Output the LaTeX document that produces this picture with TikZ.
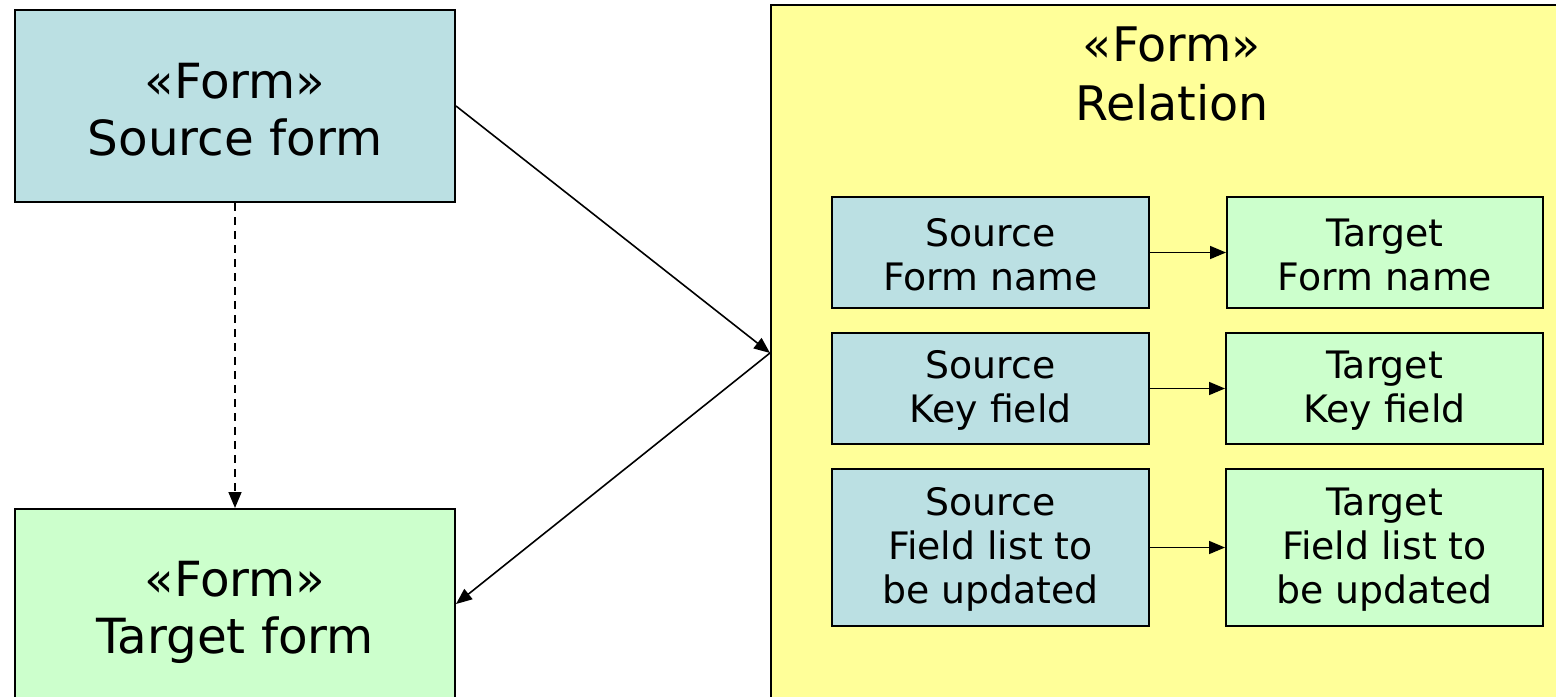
\documentclass[tikz,border=0pt]{standalone}
\usepackage{fontspec}
\setmainfont{DejaVu Sans}
\usetikzlibrary{arrows.meta}
\definecolor{srcblue}{RGB}{187,224,227}
\definecolor{tgtgreen}{RGB}{204,255,204}
\definecolor{relyellow}{RGB}{255,255,153}
\tikzset{
  bigbox/.style={draw=black, line width=1pt, inner sep=0pt, minimum width=220pt, align=center,
    font=\fontsize{24.2pt}{28.5pt}\selectfont},
  smallbox/.style={draw=black, line width=1pt, inner sep=0pt, minimum width=158.5pt, align=center,
    font=\fontsize{18.9pt}{22pt}\selectfont},
  smalltext/.style={align=center, font=\fontsize{18.9pt}{22pt}\selectfont},
  conn/.style={line width=0.8pt, -{Triangle[length=8pt,width=6.5pt]}},
}
\begin{document}
\begin{tikzpicture}[x=0.5pt,y=-0.5pt]
\useasboundingbox (0,0) rectangle (1556,696);
\clip (0,0) rectangle (1556,696);
% relation container
\node[draw=black, line width=1pt, fill=relyellow, inner sep=0pt, minimum width=405pt, minimum height=352.5pt] (rel) at (1176,357.5) {};
\node[align=center, font=\fontsize{23.8pt}{29.5pt}\selectfont] (reltitle) at (1172,74) {«Form»\\Relation};
% left boxes
\node[bigbox, fill=srcblue, minimum height=96pt] (src) at (235,106) {};
\node[font=\fontsize{24.2pt}{28.5pt}\selectfont, align=center] (srctext) at (235,110) {«Form»\\Source form};
\node[bigbox, fill=tgtgreen, minimum height=100.5pt] (tgt) at (235,609.5) {};
\node[font=\fontsize{24.2pt}{28.5pt}\selectfont, align=center] (tgttext) at (235,612) {«Form»\\Target form};
% inner boxes
\node[smallbox, fill=srcblue, minimum height=55.5pt] (s1) at (990.5,252.5) {};
\node[smallbox, fill=srcblue, minimum height=55.5pt] (s2) at (990.5,388.5) {};
\node[smallbox, fill=srcblue, minimum height=78.5pt] (s3) at (990.5,547.5) {};
\node[smallbox, fill=tgtgreen, minimum height=55.5pt, minimum width=158pt] (t1) at (1385,252.5) {};
\node[smallbox, fill=tgtgreen, minimum height=55.5pt] (t2) at (1384.5,388.5) {};
\node[smallbox, fill=tgtgreen, minimum height=78.5pt] (t3) at (1384.5,547.5) {};
\node[smalltext] (s1t) at (990.5,254.5) {Source\\Form name};
\node[smalltext] (s2t) at (990.5,390.5) {Source\\Key field};
\node[smalltext] (s3t) at (990.5,549.5) {Source\\Field list to\\be updated};
\node[smalltext] (t1t) at (1385,254.5) {Target\\Form name};
\node[smalltext] (t2t) at (1384.5,390.5) {Target\\Key field};
\node[smalltext] (t3t) at (1384.5,549.5) {Target\\Field list to\\be updated};
% connectors
\draw[conn] (s1.east) -- (t1.west);
\draw[conn] (s2.east) -- (t2.west);
\draw[conn] (s3.east) -- (t3.west);
\draw[conn] (src.east) -- ([yshift=2.25pt]rel.west);
\draw[conn] ([yshift=2.25pt]rel.west) -- ([yshift=2.75pt]tgt.east);
\draw[conn, dashed, dash pattern=on 4pt off 3pt] (src.south) -- (tgt.north);
\end{tikzpicture}
\end{document}
